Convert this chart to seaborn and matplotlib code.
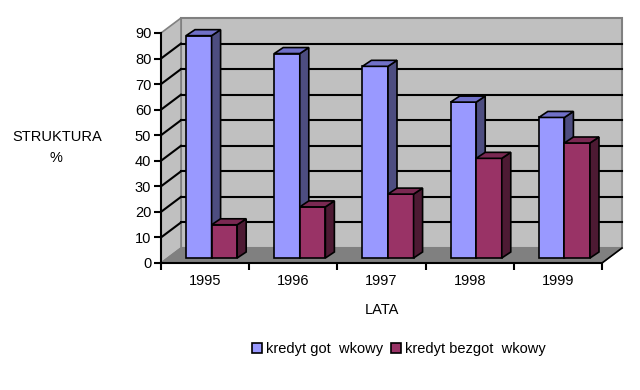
import matplotlib
matplotlib.use("Agg")
import matplotlib.pyplot as plt
from matplotlib.patches import Polygon, Patch
import pandas as pd
import seaborn as sns

years = ["1995", "1996", "1997", "1998", "1999"]
gotowkowy = [87, 80, 75, 61, 55]
bezgotowkowy = [13, 20, 25, 39, 45]
series = ["kredyt got  wkowy", "kredyt bezgot  wkowy"]

front_colors = ["#9999ff", "#993366"]
side_colors = ["#4d4d80", "#4d1a33"]
top_colors = ["#7070c8", "#7a2952"]

df = pd.DataFrame({
    "rok": years * 2,
    "udzial": gotowkowy + bezgotowkowy,
    "rodzaj": [series[0]] * len(years) + [series[1]] * len(years),
})

FS = 10.5
plt.rcParams["font.family"] = ["Liberation Sans", "DejaVu Sans"]
plt.rcParams["font.size"] = FS

fig = plt.figure(figsize=(6.4, 3.9), dpi=100)
ax = fig.add_axes([161 / 640, 127 / 390, 441 / 640, 230 / 390])

sns.barplot(data=df, x="rok", y="udzial", hue="rodzaj", order=years,
            hue_order=series, palette=front_colors, width=0.58,
            saturation=1, legend=False, ax=ax)
bars = list(ax.patches)

ymax = 90
ax.set_xlim(-0.5, len(years) - 0.5)
ax.set_ylim(0, ymax)
x0, x1 = ax.get_xlim()

# pixel -> data unit factors for the fake 3D depth
ux = 441 / (x1 - x0)
uy = 230 / ymax
DX, DY = 20 / ux, 15 / uy      # wall depth
BX, BY = 6.5 / ux, 5 / uy      # bar position inside the box
SX, SY = 9 / ux, 6 / uy        # bar depth

# walls and floor
ax.add_patch(Polygon([(x0 + DX, DY), (x1 + DX, DY), (x1 + DX, ymax + DY), (x0 + DX, ymax + DY)],
                     closed=True, fc="#c0c0c0", ec="#808080", lw=1.5, clip_on=False, zorder=0.2))
ax.add_patch(Polygon([(x0, 0), (x0 + DX, DY), (x0 + DX, ymax + DY), (x0, ymax)],
                     closed=True, fc="#c0c0c0", ec="#808080", lw=1.2, clip_on=False, zorder=0.3))
ax.add_patch(Polygon([(x0, 0), (x1, 0), (x1 + DX, DY), (x0 + DX, DY)],
                     closed=True, fc="#808080", ec="#808080", lw=1, clip_on=False, zorder=0.3))
ax.plot([x1, x1 + DX], [0, DY], color="black", lw=1.2, clip_on=False, zorder=0.5)

for v in range(10, ymax, 10):
    ax.plot([x0 + DX, x1 + DX], [v + DY, v + DY], color="black", lw=1.5,
            clip_on=False, zorder=0.5)
    ax.plot([x0, x0 + DX], [v, v + DY], color="black", lw=1.5,
            clip_on=False, zorder=0.5)

# bars: shift into the box and add side/top faces
n = len(years)
for i, bar in enumerate(bars):
    k = i // n
    z = 2 + k
    bar.set_x(bar.get_x() + BX)
    bar.set_y(BY)
    bar.set_edgecolor("black")
    bar.set_linewidth(1.2)
    bar.set_zorder(z)
    bar.set_clip_on(False)
    bx0, bw, bh = bar.get_x(), bar.get_width(), bar.get_height()
    bx1, yb, yt = bx0 + bw, BY, BY + bh
    ax.add_patch(Polygon([(bx1, yb), (bx1 + SX, yb + SY), (bx1 + SX, yt + SY), (bx1, yt)],
                         closed=True, fc=side_colors[k], ec="black", lw=1.2,
                         clip_on=False, zorder=z))
    ax.add_patch(Polygon([(bx0, yt), (bx1, yt), (bx1 + SX, yt + SY), (bx0 + SX, yt + SY)],
                         closed=True, fc=top_colors[k], ec="black", lw=1.2,
                         clip_on=False, zorder=z))

ax.set_facecolor("none")
for side in ["top", "right"]:
    ax.spines[side].set_visible(False)
for side in ["left", "bottom"]:
    ax.spines[side].set_linewidth(1.5)
    ax.spines[side].set_color("black")
    ax.spines[side].set_zorder(1)

ax.set_yticks(range(0, ymax + 1, 10))
ax.tick_params(axis="y", direction="out", length=5, width=1.5, pad=2, labelsize=FS)
ax.set_xticks(range(n))
ax.set_xticklabels(years)
ax.set_xticks([x0 + j for j in range(n + 1)], minor=True)
ax.tick_params(axis="x", which="major", length=0, pad=8, labelsize=FS)
ax.tick_params(axis="x", which="minor", direction="out", length=5, width=1.5)
ax.set_xlabel("")
ax.set_ylabel("")

fig.text(57 / 640, 1 - 137 / 390, "STRUKTURA", ha="center", va="center", fontsize=FS)
fig.text(56 / 640, 1 - 158 / 390, "%", ha="center", va="center", fontsize=FS)
fig.text(382 / 640, 1 - 310 / 390, "LATA", ha="center", va="center", fontsize=FS)

handles = [Patch(fc=c, ec="black", lw=1.2) for c in front_colors]
fig.legend(handles, series, loc="center", bbox_to_anchor=(399 / 640, 1 - 349 / 390),
           ncol=2, frameon=False, handlelength=0.7, handleheight=0.7,
           handletextpad=0.3, columnspacing=0.5, fontsize=FS)

fig.savefig("out.png", dpi=100, facecolor="white")
